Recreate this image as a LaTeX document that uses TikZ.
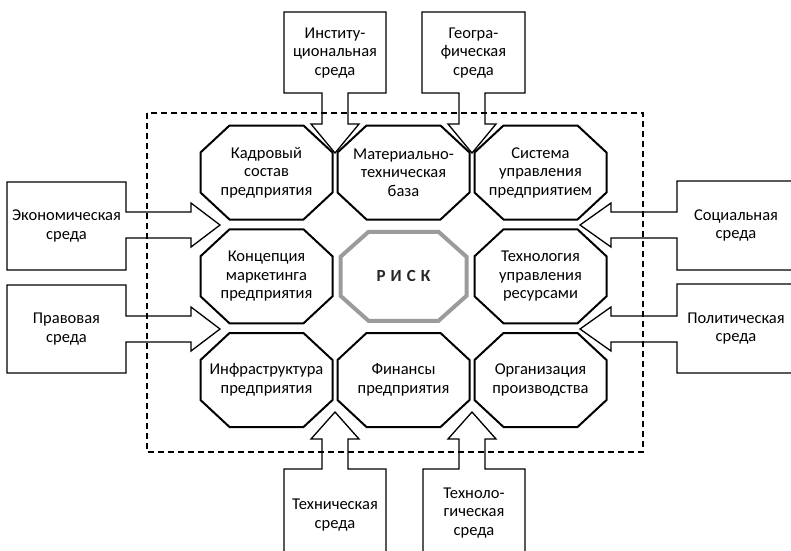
\documentclass[tikz,border=0pt]{standalone}
\usepackage{fontspec}
\setmainfont{Carlito}
\usepackage{xcolor}
\usetikzlibrary{calc}
\definecolor{riskgray}{HTML}{9B9B9B}
\newcommand{\envfont}{\fontsize{16.5}{18.5}\selectfont}
\newcommand{\riskfont}{\fontsize{17}{18.5}\selectfont\bfseries}
% octagon round a node: name, chamfer x, chamfer y
\newcommand{\octagon}[3]{($(#1.north west)+(#2,0)$) -- ($(#1.north east)+(-#2,0)$) -- ($(#1.north east)+(0,#3)$) -- ($(#1.south east)+(0,-#3)$) -- ($(#1.south east)+(-#2,0)$) -- ($(#1.south west)+(#2,0)$) -- ($(#1.south west)+(0,-#3)$) -- ($(#1.north west)+(0,#3)$) -- cycle}
\tikzset{%
	octbox/.style  = {rectangle, minimum width=132pt, minimum height=94pt, inner sep=0pt, outer sep=0pt, align=center, font=\envfont},
	riskbox/.style = {octbox, minimum width=126pt, minimum height=89pt, text=black!85, font=\riskfont},
	octline/.style = {line width=2pt},
	riskline/.style = {draw=riskgray, line width=4pt},
	envtext/.style = {align=center, font=\envfont, inner sep=0pt},
	callout/.style = {line width=1.3pt},
	frame/.style   = {line width=1.3pt, dash pattern=on 6pt off 4pt},
}
\begin{document}
\begin{tikzpicture}[x=1pt,y=-1pt]
		\useasboundingbox (0,0) rectangle (791,550);
		\clip (0,0) rectangle (791,550);
		\draw[frame] (147,113) rectangle (643,452);  % enterprise
		% internal factors
		\node[octbox] (kadr)  at (266.5,172.5) {Кадровый\\состав\\предприятия};
		\node[octbox] (mtb)   at (403.5,172.5) {Материально-\\техническая\\база};
		\node[octbox] (sysup) at (540.5,172.5) {Система\\управления\\предприятием};
		\node[octbox] (konc)  at (266.5,276.3) {Концепция\\маркетинга\\предприятия};
		\node[riskbox] (risk) at (403.5,276.3) {Р\hspace{5pt}И\hspace{5pt}С\hspace{5pt}К};
		\node[octbox] (techur) at (540.5,276.3) {Технология\\управления\\ресурсами};
		\node[octbox] (infra) at (266.5,380) {Инфраструктура\\предприятия};
		\node[octbox] (fin)   at (403.5,380) {Финансы\\предприятия};
		\node[octbox] (org)   at (540.5,380) {Организация\\производства};
		\foreach \n in {kadr,mtb,sysup,konc,techur,infra,fin,org}
			\draw[octline] \octagon{\n}{29}{27};
		\draw[riskline] \octagon{risk}{28}{25};
		% external environment, top
		\draw[callout] (284,93) -- (284,12) -- (386,12) -- (386,93) -- (348,93) -- (348,124) -- (359,124) -- (335,153) -- (311,124) -- (322,124) -- (322,93) -- cycle;
		\node[envtext] (inst) at (335,53) {Институ-\\циональная\\среда};
		\draw[callout] (422,93) -- (422,12) -- (525,12) -- (525,93) -- (485,93) -- (485,124) -- (496,124) -- (472,153) -- (448,124) -- (459,124) -- (459,93) -- cycle;
		\node[envtext] (geo) at (473.5,53) {Геогра-\\фическая\\среда};
		% left
		\draw[callout] (126,212) -- (126,182) -- (7,182) -- (7,270) -- (126,270) -- (126,238) -- (191,238) -- (191,247) -- (220,225) -- (191,203) -- (191,212) -- cycle;
		\node[envtext] (econ) at (66.5,226) {Экономическая\\среда};
		\draw[callout] (126,316) -- (126,285) -- (7,285) -- (7,373) -- (126,373) -- (126,342) -- (191,342) -- (191,351) -- (220,329) -- (191,307) -- (191,316) -- cycle;
		\node[envtext] (prav) at (66.5,329) {Правовая\\среда};
		% right
		\draw[callout] (677,212) -- (677,181) -- (796,181) -- (796,270) -- (677,270) -- (677,238) -- (611,238) -- (611,247) -- (580,225) -- (611,203) -- (611,212) -- cycle;
		\node[envtext] (soc) at (736,225.5) {Социальная\\среда};
		\draw[callout] (677,316) -- (677,284) -- (796,284) -- (796,373) -- (677,373) -- (677,342) -- (611,342) -- (611,351) -- (580,329) -- (611,307) -- (611,316) -- cycle;
		\node[envtext] (pol) at (736,328.5) {Политическая\\среда};
		% bottom
		\draw[callout] (284,560) -- (284,469) -- (322,469) -- (322,439) -- (311,439) -- (335,412) -- (359,439) -- (348,439) -- (348,469) -- (386,469) -- (386,560) -- cycle;
		\node[envtext] (techn) at (335,515) {Техническая\\среда};
		\draw[callout] (423,560) -- (423,469) -- (459,469) -- (459,439) -- (448,439) -- (472,412) -- (496,439) -- (485,439) -- (485,469) -- (525,469) -- (525,560) -- cycle;
		\node[envtext] (tlog) at (474,513) {Техноло-\\гическая\\среда};
		\end{tikzpicture}
\end{document}
